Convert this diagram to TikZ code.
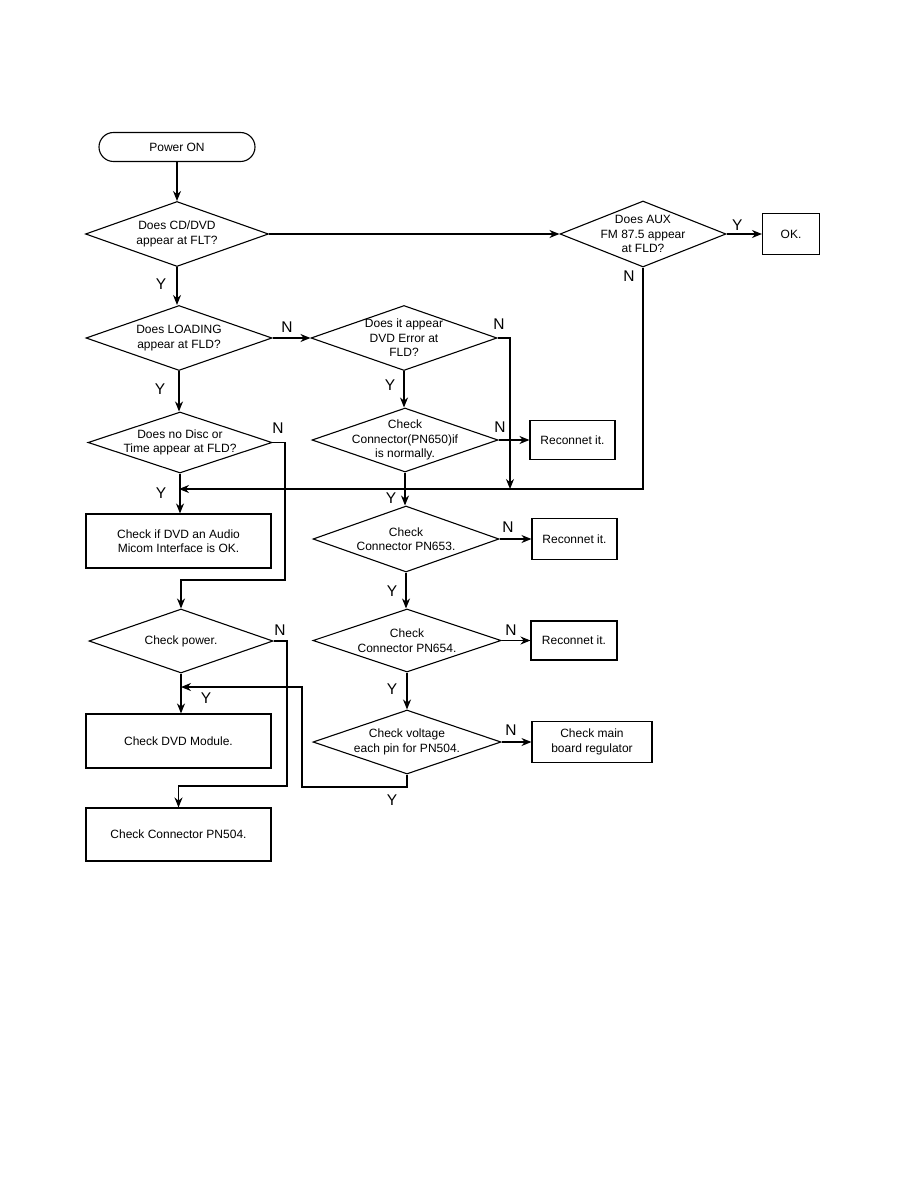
\documentclass[tikz,border=0pt]{standalone}
\usepackage{fontspec}
\setmainfont{Liberation Sans}
\usetikzlibrary{arrows.meta,shapes.geometric}
\begin{document}
\begin{tikzpicture}[x=1pt, y=-1pt, >={Stealth[length=10pt,width=8pt]}, line width=1.1pt,
  every node/.style={font=\fontsize{12}{14.5}\selectfont},
  dia/.style={diamond, draw, minimum width=186pt, minimum height=64pt, inner sep=0pt},
  box/.style={draw, align=center, inner sep=0pt},
  yn/.style={font=\fontsize{15.5}{18}\selectfont}]
\useasboundingbox (0,0) rectangle (914,1190);
\node[draw, rounded corners=14.5pt, minimum width=156pt, minimum height=29pt] (pwr) at (177,147) {Power ON};
\node[dia, minimum width=183pt, minimum height=65pt, label={[align=center]center:Does CD/DVD\\appear at FLT?}] (d1) at (177,234) {};
\node[dia, minimum width=166pt, minimum height=66pt, label={[align=center]center:Does AUX\\FM 87.5 appear\\at FLD?}] (aux) at (643,234) {};
\node[box, minimum width=57pt, minimum height=41pt] (ok) at (791,234) {OK.};
\node[dia, minimum height=65pt, label={[align=center]center:Does LOADING\\appear at FLD?}] (d2) at (179,338) {};
\node[dia, minimum height=65pt, label={[align=center]center:Does it appear\\DVD Error at\\FLD?}] (d3) at (404,338) {};
\node[dia, label={[align=center]center:Check\\Connector(PN650)if\\is normally.}] (d4) at (405,440) {};
\node[box, minimum width=85pt, minimum height=39pt] (r1) at (572.5,440) {Reconnet it.};
\node[dia, minimum width=184pt, minimum height=61pt, label={[align=center]center:Does no Disc or\\Time appear at FLD?}] (d8) at (180,442.5) {};
\node[box, minimum width=185pt, minimum height=54pt] (b1) at (178.5,541) {Check if DVD an Audio\\Micom Interface is OK.};
\node[dia, minimum height=66pt, label={[align=center]center:Check\\Connector PN653.}] (d5) at (406,539) {};
\node[box, minimum width=85pt, minimum height=41pt] (r2) at (574.5,539) {Reconnet it.};
\node[dia, minimum width=184pt, label={center:Check power.}] (d9) at (181,641) {};
\node[dia, minimum width=188pt, minimum height=63pt, label={[align=center]center:Check\\Connector PN654.}] (d6) at (407,640.5) {};
\node[box, minimum width=86pt, minimum height=39pt] (r3) at (574,640.5) {Reconnet it.};
\node[dia, minimum width=188pt, label={[align=center]center:Check voltage\\each pin for PN504.}] (d7) at (407,742) {};
\node[box, minimum width=120pt, minimum height=41pt] (reg) at (592,742) {Check main\\board regulator};
\node[box, minimum width=185pt, minimum height=54pt] (b2) at (178.5,741) {Check DVD Module.};
\node[box, minimum width=185pt, minimum height=53pt] (b3) at (178.5,834.5) {Check Connector PN504.};
\coordinate (jl) at (179,489); \coordinate (jr) at (510,489);
\coordinate (k1) at (285,580); \coordinate (k2) at (287,786);
\coordinate (k3) at (302,787); \coordinate (k4) at (181,687);
\draw[->] (pwr.south) -- (pwr.south |- d1.north);
\draw[->] (d1.east) -- (aux.west);
\draw[->] (aux.east) -- (ok.west) node[yn, pos=.3, above] (ya) {Y};
\draw[->] (aux.south) |- (jl); \node[yn] (na) at (629,276) {N};
\draw[->] (d1.south) -- (d1.south |- d2.north); \node[yn] (y1) at (161,284) {Y};
\draw[->] (d2.east) -- (d3.west); \node[yn] (n1) at (287,327) {N};
\draw[->] (d2.south) -- (d2.south |- d8.north); \node[yn] (y2) at (160,389) {Y};
\draw[->] (d3.east) -| (jr); \node[yn] (n2) at (499,324) {N};
\draw[->] (d3.south) -- (d3.south |- d4.north); \node[yn] (y3) at (390,385) {Y};
\draw[->] (d4.east) -- (r1.west); \node[yn] (n3) at (500,427) {N};
\draw[->] (d4.south) -- (d4.south |- d5.north); \node[yn] (y5) at (391,498) {Y};
\draw[->] (d8.east) -| (k1) -| (d9.north); \node[yn] (n4) at (278,428) {N};
\draw[->] (d8.south) -- (d8.south |- b1.north); \node[yn] (y4) at (161,493) {Y};
\draw[->] (d5.east) -- (r2.west); \node[yn] (n5) at (508,527) {N};
\draw[->] (d5.south) -- (d5.south |- d6.north); \node[yn] (y6) at (392,591) {Y};
\draw[->] (d9.east) -| (k2) -| (b3.north); \node[yn] (n6) at (280,630) {N};
\draw[->] (d9.south) -- (d9.south |- b2.north); \node[yn] (y8) at (206,698) {Y};
\draw[->] (d6.east) -- (r3.west); \node[yn] (n7) at (511,630) {N};
\draw[->] (d6.south) -- (d6.south |- d7.north); \node[yn] (y7) at (392,689) {Y};
\draw[->] (d7.east) -- (reg.west); \node[yn] (n8) at (511,730) {N};
\draw[->] (d7.south) |- (k3) |- (k4); \node[yn] (y9) at (392,800) {Y};
\end{tikzpicture}
\end{document}
